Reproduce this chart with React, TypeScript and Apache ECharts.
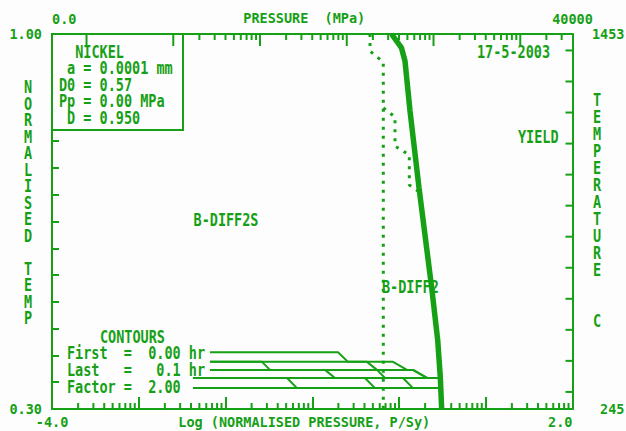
import React, { useEffect, useRef } from 'react';
import * as echarts from 'echarts';

const GREEN = '#16a016';
const FONT = 'DejaVu Sans Mono';
const FS = 13.5;
const TEXT_SCALE_Y = 1.25;

// ---- axis ranges ----
const LOGPN_MIN = -4; // log10(P/Sy)
const LOGPN_MAX = 2;
const TN_MIN = 0.3; // normalised temperature
const TN_MAX = 1.0;
const TC_MIN = 245; // temperature, C
const TC_MAX = 1453;
const P_MIN = 0.04; // pressure, MPa
const P_MAX = 40000;

// ---- tick labels ----
const TOP_LABELS = ['0.0', '40000'];
const BOTTOM_LABELS = ['-4.0', '2.0'];
const LEFT_LABELS = ['0.30', '1.00'];
const RIGHT_LABELS = ['245', '1453'];

// ---- tick positions ----
const TEMP_TICKS_C = [300, 400, 500, 600, 700, 800, 900, 1000, 1100, 1200, 1300, 1400];
const NORM_DECADES = [-4, -3, -2, -1, 0, 1];
const P_DECADES = [-2, -1, 0, 1, 2, 3, 4];
const MINOR_MULT = [2, 3, 4, 5, 6, 7, 8, 9];

// ---- yield line (thick) ----
const YIELD_X = [-0.086, 0.029, 0.069, 0.127, 0.231, 0.38, 0.446, 0.476, 0.492];
const YIELD_Y = [1.0, 0.974, 0.9496, 0.8563, 0.7125, 0.5221, 0.4288, 0.3597, 0.3];

// ---- dotted field boundaries ----
const BOUND1_X = [-0.334, -0.334, -0.181, -0.181];
const BOUND1_Y = [1.0, 0.968, 0.9477, 0.3];
const BOUND2_X = [-0.181, -0.046, -0.046, 0.119, 0.119, 0.219];
const BOUND2_Y = [0.8619, 0.8451, 0.7909, 0.7741, 0.7181, 0.7069];

// ---- time contours ----
const CONTOURS: [number, number][][] = [
  [[-2.179, 0.406], [-0.703, 0.406], [-0.588, 0.388], [-0.069, 0.388], [0.092, 0.373], [0.161, 0.373], [0.323, 0.358], [0.47, 0.358]],
  [[-2.179, 0.388], [-1.579, 0.388], [-1.487, 0.373], [-0.853, 0.373], [-0.738, 0.358], [-0.392, 0.358], [-0.277, 0.339], [0.48, 0.339]],
  [[-2.179, 0.388], [-0.369, 0.388], [-0.254, 0.373], [-0.161, 0.358], [0.046, 0.358], [0.161, 0.339], [0.48, 0.339]],
  [[-2.179, 0.373], [0.161, 0.373], [0.323, 0.358], [0.47, 0.358]],
  [[-2.375, 0.358], [-1.291, 0.358], [-1.176, 0.339], [0.48, 0.339]],
  [[-2.375, 0.358], [0.47, 0.358]],
  [[-2.375, 0.339], [0.48, 0.339]],
];

// ---- texts ----
const INFO_LINES = ['  NICKEL', ' a = 0.0001 mm', 'D0 = 0.57', 'Pp = 0.00 MPa', ' D = 0.950'];
const CONTOUR_LINES = ['First  =  0.00 hr', 'Last   =   0.1 hr', 'Factor =  2.00'];
const DATE_TEXT = '17-5-2003';
const LEFT_NAME = 'NORMALISED TEMP';
const RIGHT_NAME = 'TEMPERATURE';
const RIGHT_UNIT = 'C';

const near = (a: number, b: number) => Math.abs(a - b) < 1e-6;

export default function App() {
  const ref = useRef<HTMLDivElement>(null);
  useEffect(() => {
    if (!ref.current) return;
    const chart = echarts.init(ref.current, null, { renderer: 'svg' });
    const lpMin = Math.log10(P_MIN);
    const lpMax = Math.log10(P_MAX);

    const bottomMinor: number[][] = [];
    NORM_DECADES.forEach((d) =>
      MINOR_MULT.forEach((k) => {
        const v = d + Math.log10(k);
        if (v < LOGPN_MAX) bottomMinor.push([v, TN_MIN]);
      })
    );
    const topMinor: number[][] = [];
    const topMajor: number[][] = [];
    P_DECADES.forEach((d) => {
      if (d > lpMin && d < lpMax) topMajor.push([d, TN_MAX]);
      MINOR_MULT.forEach((k) => {
        const v = d + Math.log10(k);
        if (v > lpMin + 1e-6 && v < lpMax - 1e-6) topMinor.push([v, TN_MAX]);
      });
    });
    const rightTicks = TEMP_TICKS_C.map((t) => [LOGPN_MAX, t]);

    const tickSeries = (name: string, data: number[][], xi: number, yi: number, dx: number, dy: number, z: number) => ({
      type: 'custom',
      name,
      coordinateSystem: 'cartesian2d',
      xAxisIndex: xi,
      yAxisIndex: yi,
      z,
      silent: true,
      data,
      renderItem: (_p: any, api: any) => {
        const p = api.coord([api.value(0), api.value(1)]);
        return {
          type: 'line',
          shape: { x1: p[0], y1: p[1], x2: p[0] + dx, y2: p[1] + dy },
          style: { stroke: GREEN, lineWidth: 2 },
        };
      },
    });

    const textStyle = { color: GREEN, fontFamily: FONT, fontWeight: 'bold' as const, fontSize: FS };
    const gText = (text: string, x: number, y: number, align: string, vAlign: string, lineHeight?: number) => ({
      type: 'text',
      x,
      y,
      scaleY: TEXT_SCALE_Y,
      z: 20,
      silent: true,
      style: {
        text,
        fill: GREEN,
        font: `bold ${FS}px "${FONT}"`,
        textAlign: align,
        align,
        textVerticalAlign: vAlign,
        verticalAlign: vAlign,
        lineHeight,
      },
    });

    const option: any = {
      animation: false,
      backgroundColor: '#fdfdfd',
      grid: { left: 52, right: 53.5, top: 34, bottom: 22, containLabel: false, outerBoundsMode: 'none' },
      xAxis: [
        {
          type: 'value',
          position: 'bottom',
          min: LOGPN_MIN,
          max: LOGPN_MAX,
          interval: 1,
          name: 'Log (NORMALISED PRESSURE, P/Sy)',
          nameLocation: 'middle',
          nameGap: 13,
          nameMoveOverlap: false,
          nameTextStyle: { ...textStyle, verticalAlign: 'middle', padding: [0, 16, 0, 0] },
          axisLine: { show: true, onZero: false, lineStyle: { color: GREEN, width: 2 } },
          axisTick: { show: true, inside: true, length: 12, lineStyle: { color: GREEN, width: 2 } },
          splitLine: { show: false },
          axisLabel: {
            ...textStyle,
            margin: 6,
            showMinLabel: true,
            showMaxLabel: true,
            alignMaxLabel: 'right',
            formatter: (v: number) => (near(v, LOGPN_MIN) ? BOTTOM_LABELS[0] : near(v, LOGPN_MAX) ? BOTTOM_LABELS[1] : ''),
          },
        },
        {
          type: 'value',
          position: 'top',
          min: lpMin,
          max: lpMax,
          name: 'PRESSURE  (MPa)',
          nameLocation: 'middle',
          nameGap: 16,
          nameMoveOverlap: false,
          nameTextStyle: { ...textStyle, verticalAlign: 'middle', padding: [0, 16, 0, 0] },
          axisLine: { show: true, onZero: false, lineStyle: { color: GREEN, width: 2 } },
          axisTick: { show: false },
          splitLine: { show: false },
          axisLabel: {
            ...textStyle,
            margin: 8,
            showMinLabel: true,
            showMaxLabel: true,
            alignMinLabel: 'left',
            formatter: (v: number) => (near(v, lpMin) ? TOP_LABELS[0] : near(v, lpMax) ? TOP_LABELS[1] : ''),
          },
        },
      ],
      yAxis: [
        {
          type: 'value',
          position: 'left',
          min: TN_MIN,
          max: TN_MAX,
          interval: 0.05,
          axisLine: { show: true, onZero: false, lineStyle: { color: GREEN, width: 2 } },
          axisTick: { show: true, inside: true, length: 7, lineStyle: { color: GREEN, width: 2 } },
          splitLine: { show: false },
          axisLabel: {
            ...textStyle,
            margin: 10,
            showMinLabel: true,
            showMaxLabel: true,
            formatter: (v: number) => (near(v, TN_MIN) ? LEFT_LABELS[0] : near(v, TN_MAX) ? LEFT_LABELS[1] : ''),
          },
        },
        {
          type: 'value',
          position: 'right',
          min: TC_MIN,
          max: TC_MAX,
          axisLine: { show: true, onZero: false, lineStyle: { color: GREEN, width: 2 } },
          axisTick: { show: false },
          splitLine: { show: false },
          axisLabel: {
            ...textStyle,
            margin: 52,
            align: 'right',
            showMinLabel: true,
            showMaxLabel: true,
            formatter: (v: number) => (near(v, TC_MIN) ? RIGHT_LABELS[0] : near(v, TC_MAX) ? RIGHT_LABELS[1] : ''),
          },
        },
      ],
      graphic: [
        {
          type: 'rect',
          z: 10,
          silent: true,
          shape: { x: 52, y: 34, width: 131, height: 96 },
          style: { fill: '#fdfdfd', stroke: GREEN, lineWidth: 2 },
        },
        gText(INFO_LINES.join('\n'), 59, 85, 'left', 'middle', 13.2),
        gText(DATE_TEXT, 477, 52, 'left', 'middle'),
        gText('YIELD', 518, 137, 'left', 'middle'),
        gText('B-DIFF2S', 226, 220, 'center', 'middle'),
        gText('B-DIFF2', 382, 287, 'left', 'middle'),
        gText('CONTOURS', 100, 337, 'left', 'middle'),
        gText(CONTOUR_LINES[0], 67, 353, 'left', 'middle'),
        gText(CONTOUR_LINES[1], 67, 370, 'left', 'middle'),
        gText(CONTOUR_LINES[2], 67, 387, 'left', 'middle'),
        gText(LEFT_NAME.split('').join('\n'), 28, 203, 'center', 'middle', 13.2),
        gText([...RIGHT_NAME.split(''), ' ', ' ', RIGHT_UNIT].join('\n'), 597, 210.5, 'center', 'middle', 13.6),
      ],
      series: [
        {
          type: 'line',
          name: 'YIELD',
          data: YIELD_X.map((x, i) => [x, YIELD_Y[i]]),
          symbol: 'none',
          lineStyle: { color: GREEN, width: 5.5 },
          z: 4,
        },
        {
          type: 'line',
          name: 'B-DIFF2S boundary',
          data: BOUND1_X.map((x, i) => [x, BOUND1_Y[i]]),
          symbol: 'none',
          lineStyle: { color: GREEN, width: 3, type: [3, 6], cap: 'butt' },
          z: 4,
        },
        {
          type: 'line',
          name: 'B-DIFF2 boundary',
          data: BOUND2_X.map((x, i) => [x, BOUND2_Y[i]]),
          symbol: 'none',
          lineStyle: { color: GREEN, width: 3, type: [3, 6], cap: 'butt' },
          z: 4,
        },
        ...CONTOURS.map((c, i) => ({
          type: 'line',
          name: `contour ${i + 1}`,
          data: c,
          symbol: 'none',
          lineStyle: { color: GREEN, width: 2 },
          z: 3,
        })),
        tickSeries('bottom minor ticks', bottomMinor, 0, 0, 0, -6, 3),
        tickSeries('top minor ticks', topMinor, 1, 0, 0, 6, 3),
        tickSeries('top major ticks', topMajor, 1, 0, 0, 12, 15),
        tickSeries('right ticks', rightTicks, 0, 1, -7, 0, 3),
      ],
    };
    chart.setOption(option);
    return () => chart.dispose();
  }, []);
  return (
    <div
      ref={ref}
      style={{ position: 'absolute', left: 0, top: 0, width: 626, height: 431, background: '#fdfdfd' }}
    />
  );
}
